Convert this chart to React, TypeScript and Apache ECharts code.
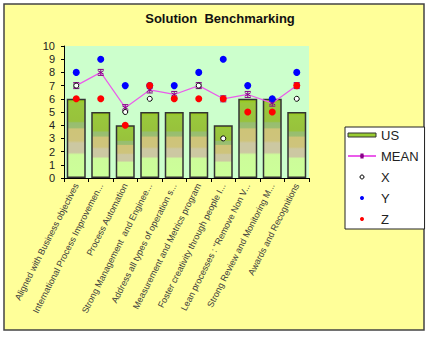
import React, { useEffect, useRef } from "react";
import * as echarts from "echarts";

const categories = [
  "Aligned with Business objectives",
  "International Process Improvemen...",
  "Process Automation",
  "Strong Management  and Enginee...",
  "Address all types of operation s...",
  "Measurement and Metrics program",
  "Foster creativity through people I...",
  "Lean processes : \"Remove Non V...",
  "Strong Review and Monitoring M...",
  "Awards and Recognitions",
];
const usValues = [6, 5, 4, 5, 5, 5, 4, 6, 6, 5];
const meanValues = [7, 8, 5.33, 6.67, 6.33, 7, 6, 6.33, 5.67, 7];
const xValues = [7, 9, 5, 6, 6, 7, 3, 7, 6, 6];
const yValues = [8, 9, 7, 7, 7, 8, 9, 7, 6, 8];
const zValues = [6, 6, 4, 7, 6, 6, 6, 5, 5, 7];
const yTicks = [0, 1, 2, 3, 4, 5, 6, 7, 8, 9, 10];

const FONT = "Arial, 'Liberation Sans', sans-serif";
const MEAN_SYMBOL = "path://M5,0L5,10M2,0L8,0M2,10L8,10M2,2L8,8M8,2L2,8";

export default function App() {
  const ref = useRef<HTMLDivElement>(null);
  useEffect(() => {
    if (!ref.current) return;
    const chart = echarts.init(ref.current, null, { renderer: "svg" });
    const barGrad = new echarts.graphic.LinearGradient(0, 0, 0, 1, [
      { offset: 0, color: "#9acc10" },
      { offset: 0.05, color: "#99c83c" },
      { offset: 0.28, color: "#98c23c" },
      { offset: 0.3, color: "#96be70" },
      { offset: 0.36, color: "#9cbe70" },
      { offset: 0.38, color: "#cec478" },
      { offset: 0.53, color: "#cec47c" },
      { offset: 0.56, color: "#ccc8a2" },
      { offset: 0.68, color: "#ccc8a2" },
      { offset: 0.71, color: "#ccfc9a" },
      { offset: 1, color: "#ccff99" },
    ]);
    chart.setOption({
      animation: false,
      backgroundColor: "#ffffff",
      title: {
        text: "Solution  Benchmarking",
        left: 215,
        textAlign: "center",
        top: 7,
        textStyle: { fontFamily: FONT, fontSize: 13, fontWeight: "bold", color: "#111" },
      },
      graphic: [
        {
          type: "rect",
          z: -10,
          silent: true,
          shape: { x: 4, y: 4, width: 420, height: 326 },
          style: { fill: "#ffff99", stroke: "#444", lineWidth: 1.5 },
        },
      ],
      legend: {
        orient: "vertical",
        left: 345,
        top: 127,
        padding: [1, 6, 3, 2],
        backgroundColor: "#ffffff",
        borderColor: "#222",
        borderWidth: 1,
        itemWidth: 28,
        itemHeight: 4,
        itemGap: 7,
        textStyle: { fontFamily: FONT, fontSize: 13, color: "#222", lineHeight: 14 },
        data: [
          { name: "US", icon: "rect", itemStyle: { color: "#99cc33", borderColor: "#333", borderWidth: 1 } },
          { name: "MEAN" },
          { name: "X", itemStyle: { borderWidth: 1 } },
          { name: "Y" },
          { name: "Z" },
        ],
      },
      grid: { left: 64, top: 46, width: 245, height: 132, show: true, backgroundColor: "#ccffcc", borderWidth: 0 },
      xAxis: {
        type: "category",
        data: categories,
        axisLine: { lineStyle: { color: "#000", width: 1 } },
        axisTick: { show: true, alignWithLabel: false, length: 4, lineStyle: { color: "#000" } },
        axisLabel: {
          interval: 0,
          rotate: 63,
          margin: 6,
          fontFamily: FONT,
          fontSize: 9,
          color: "#3a3a3a",
        },
      },
      yAxis: {
        type: "value",
        min: 0,
        max: 10,
        interval: 1,
        splitLine: { show: false },
        axisLine: { show: true, lineStyle: { color: "#000", width: 1 } },
        axisTick: { show: true, length: 3, inside: false, lineStyle: { color: "#000" } },
        axisLabel: {
          margin: 9,
          fontFamily: FONT,
          fontSize: 11,
          color: "#222",
          formatter: (v: number) => (yTicks.includes(v) ? String(v) : ""),
        },
      },
      series: [
        {
          name: "US",
          type: "bar",
          data: usValues,
          barWidth: 19,
          itemStyle: { color: barGrad, borderColor: "#333", borderWidth: 1.5 },
          z: 2,
        },
        {
          name: "MEAN",
          type: "line",
          data: meanValues,
          symbol: MEAN_SYMBOL,
          symbolSize: 6,
          lineStyle: { color: "#ea5cea", width: 1.2 },
          itemStyle: { color: "none", borderColor: "#880088", borderWidth: 1 },
          z: 3,
        },
        {
          name: "X",
          type: "scatter",
          data: xValues,
          symbol: "circle",
          symbolSize: 5,
          itemStyle: { color: "#ffffff", borderColor: "#000", borderWidth: 1, opacity: 1 },
          z: 4,
        },
        {
          name: "Y",
          type: "scatter",
          data: yValues,
          symbol: "circle",
          symbolSize: 7,
          itemStyle: { color: "#0000ff", opacity: 1 },
          z: 5,
        },
        {
          name: "Z",
          type: "scatter",
          data: zValues,
          symbol: "circle",
          symbolSize: 7,
          itemStyle: { color: "#ff0000", opacity: 1 },
          z: 6,
        },
      ],
    });
    return () => chart.dispose();
  }, []);
  return (
    <div
      ref={ref}
      style={{ position: "fixed", left: 0, top: 0, width: 430, height: 337, background: "#fff" }}
    />
  );
}
